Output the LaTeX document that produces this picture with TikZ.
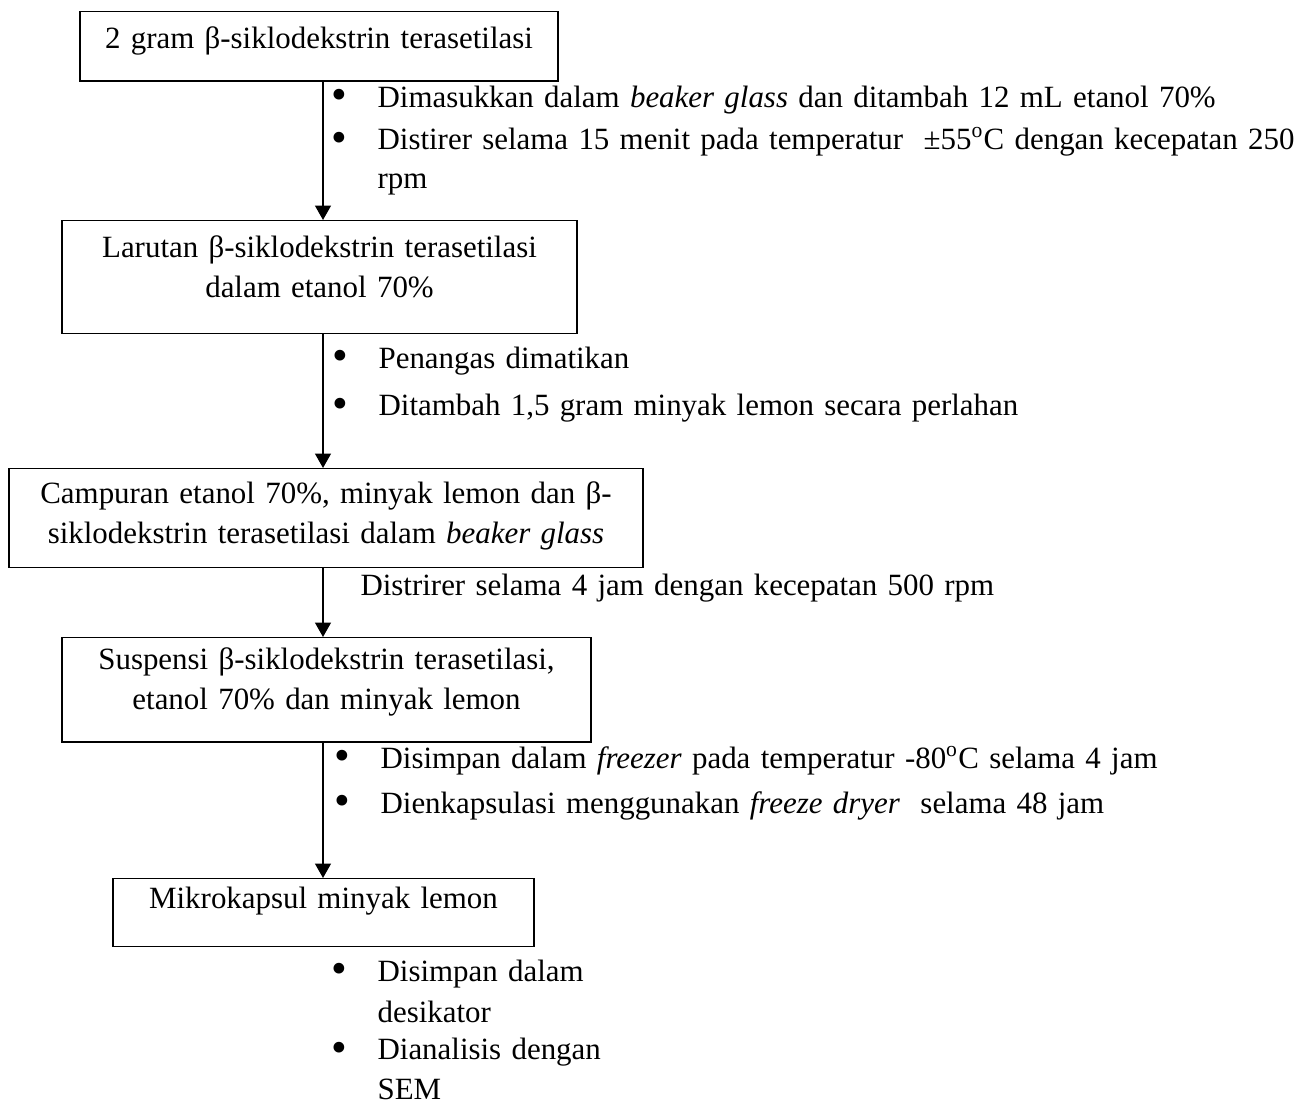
\documentclass[tikz,border=0pt]{standalone}
\usepackage{fontspec}
\setmainfont{Liberation Serif}
\usepackage{tikz}
\usetikzlibrary{arrows.meta}

\newcommand{\bulitem}{\makebox[17.5pt][l]{\raisebox{-1.1pt}{\scalebox{1.45}{\textbullet}}}}
\newcommand{\bulgap}{\hspace*{17.5pt}}

\begin{document}
\begin{tikzpicture}[x=0.38pt,y=-0.38pt,font=\fontsize{11.75}{15}\selectfont,
 box/.style={draw,line width=0.5pt,anchor=north,align=center,inner sep=0pt},
 lst/.style={anchor=base west,align=left,text width=380pt,inner sep=0pt},
 ar/.style={-{Triangle[length=5.5pt,width=6pt]},line width=0.8pt}]
\useasboundingbox (0,0) rectangle (1314,1104);
\coordinate (ax) at (323,0);
% boxes
\node[box,text width=181.6pt,text height=14.1pt,text depth=12.2pt] (bcd) at (319,11)
 {2 gram β-siklodekstrin terasetilasi};
\node[box,text width=195.7pt,text height=14.1pt,text depth=28.9pt] (lar) at (319.5,220)
 {Larutan β-siklodekstrin terasetilasi\\dalam etanol 70\%};
\node[box,text width=240.9pt,text height=13.3pt,text depth=24.3pt] (cmp) at (326,468)
 {Campuran etanol 70\%, minyak lemon dan β-\\siklodekstrin terasetilasi dalam \textit{beaker glass}};
\node[box,text width=201pt,text height=12.2pt,text depth=27.4pt] (sus) at (326.5,637)
 {Suspensi β-siklodekstrin terasetilasi,\\etanol 70\% dan minyak lemon};
\node[box,text width=160pt,text height=11.4pt,text depth=14.4pt] (mik) at (323.5,878)
 {Mikrokapsul minyak lemon};
% steps
\node[lst] (s1) at (331,107)
 {\bulitem Dimasukkan dalam \textit{beaker glass} dan ditambah 12 mL etanol 70\%\\[1pt]
  \bulitem Distirer selama 15 menit pada temperatur~ ±55\textsuperscript{o}C dengan kecepatan 250\\
  \bulgap rpm};
\node[lst] (s2) at (332,368)
 {\bulitem Penangas dimatikan\\[3.2pt]
  \bulitem Ditambah 1,5 gram minyak lemon secara perlahan};
\node[lst] (s3) at (360,595) {Distrirer selama 4 jam dengan kecepatan 500 rpm};
\node[lst] (s4) at (334,768)
 {\bulitem Disimpan dalam \textit{freezer} pada temperatur -80\textsuperscript{o}C selama 4 jam\\[2.1pt]
  \bulitem Dienkapsulasi menggunakan \textit{freeze dryer}~ selama 48 jam};
\node[lst] (s5) at (331,981)
 {\bulitem Disimpan dalam\\[0.6pt]
  \bulgap desikator\\[-0.6pt]
  \bulitem Dianalisis dengan\\
  \bulgap SEM};
% arrows
\draw[ar] (bcd.south -| ax) -- (lar.north -| ax);
\draw[ar] (lar.south -| ax) -- (cmp.north -| ax);
\draw[ar] (cmp.south -| ax) -- (sus.north -| ax);
\draw[ar] (sus.south -| ax) -- (mik.north -| ax);
\end{tikzpicture}
\end{document}
